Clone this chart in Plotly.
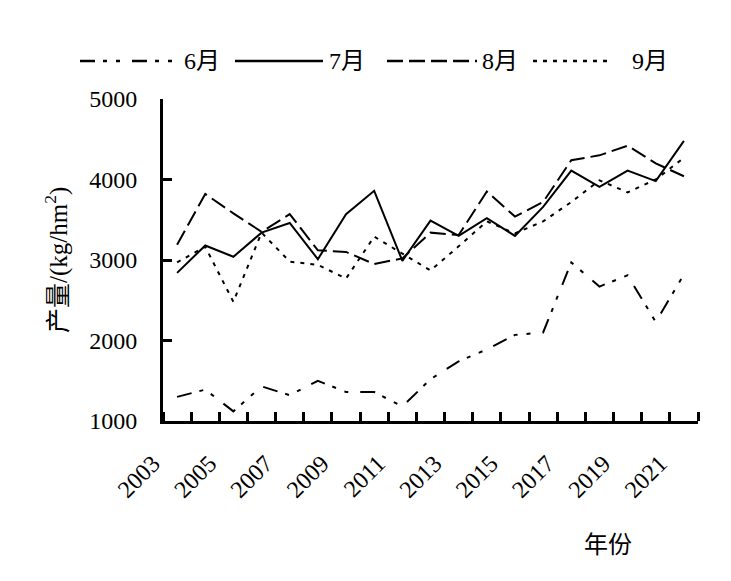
import plotly.graph_objects as go

years = list(range(2003, 2022))
tick_labels = [str(y) for y in range(2003, 2022, 2)]

jun = [1300, 1390, 1120, 1430, 1320, 1500, 1360, 1360, 1180, 1520, 1740, 1890, 2070, 2100, 2970, 2670, 2810, 2230, 2820]
jul = [2840, 3180, 3040, 3340, 3460, 3010, 3570, 3860, 2990, 3490, 3300, 3520, 3300, 3660, 4110, 3910, 4110, 3980, 4480]
aug = [3190, 3820, 3580, 3350, 3570, 3120, 3100, 2950, 3020, 3340, 3310, 3850, 3540, 3720, 4240, 4300, 4420, 4200, 4040]
sep = [2970, 3165, 2480, 3340, 2980, 2940, 2770, 3290, 3080, 2870, 3170, 3480, 3330, 3480, 3720, 3990, 3840, 4000, 4270]

series_names = ["6月", "7月", "8月", "9月"]
series_vals = [jun, jul, aug, sep]
dashes = ["15px,8px,4px,9px,4px,12px", "solid", "16px,6px", "4px,6px"]

FONT = "Liberation Serif, Times New Roman, Noto Sans CJK SC, serif"
OFF = 8  # page body margin
W, H = 731 - OFF, 581 - OFF
L, R, T, B = 163, 698, 99, 421  # plot area in page pixels


def px_x(p):
    return (p - L) / (R - L)


def px_y(p):
    return (B - p) / (B - T)


fig = go.Figure()
for name, vals, dash in zip(series_names, series_vals, dashes):
    fig.add_trace(go.Scatter(x=years, y=vals, mode="lines", name=name,
                             line=dict(color="black", width=2, dash=dash),
                             showlegend=False))

boundaries = [y - 0.5 for y in years] + [years[-1] + 0.5]

shapes = []
annotations = []
legend_pos = [(80, 173, 182), (235, 323, 327), (387, 477, 480), (533, 613, 630)]
ly = 61
for (x0, x1, tx), name, dash in zip(legend_pos, series_names, dashes):
    shapes.append(dict(type="line", xref="paper", yref="paper",
                       x0=px_x(x0), x1=px_x(x1), y0=px_y(ly), y1=px_y(ly),
                       line=dict(color="black", width=2.5, dash=dash)))
    annotations.append(dict(text=name, xref="paper", yref="paper",
                            x=px_x(tx), y=px_y(ly), xanchor="left", yanchor="middle",
                            showarrow=False, font=dict(size=24, family=FONT, color="black")))

annotations.append(dict(text="产量/(kg/hm<sup>2</sup>)", xref="paper", yref="paper",
                        x=px_x(56), y=px_y(260), textangle=-90, showarrow=False,
                        xanchor="center", yanchor="middle",
                        font=dict(size=25, family=FONT, color="black")))
annotations.append(dict(text="年份", xref="paper", yref="paper",
                        x=px_x(608), y=px_y(545), showarrow=False,
                        xanchor="center", yanchor="middle",
                        font=dict(size=24, family=FONT, color="black")))

fig.update_layout(
    width=W, height=H,
    margin=dict(l=L - OFF, r=W - (R - OFF), t=T - OFF, b=H - (B - OFF), pad=0),
    paper_bgcolor="white", plot_bgcolor="white",
    font=dict(family=FONT, size=24, color="black"),
    shapes=shapes, annotations=annotations,
    xaxis=dict(range=[years[0] - 0.5, years[-1] + 0.5],
               tickvals=[int(t) for t in tick_labels], ticktext=tick_labels,
               tickangle=-45, ticks="", showgrid=False, zeroline=False,
               showline=True, linecolor="black", linewidth=3,
               ticklabelstandoff=16, ticklabelshift=-24,
               tickfont=dict(size=24, family=FONT, color="black"),
               minor=dict(tickvals=boundaries, ticks="inside", ticklen=9,
                          tickwidth=3, tickcolor="black", showgrid=False)),
    yaxis=dict(range=[1000, 5000], tickvals=[1000, 2000, 3000, 4000, 5000],
               ticks="inside", ticklen=9, tickwidth=3, tickcolor="black",
               showgrid=False, zeroline=False, showline=True,
               linecolor="black", linewidth=3, ticklabelstandoff=18,
               tickfont=dict(size=24, family=FONT, color="black")),
)

fig.write_html("out.html")
